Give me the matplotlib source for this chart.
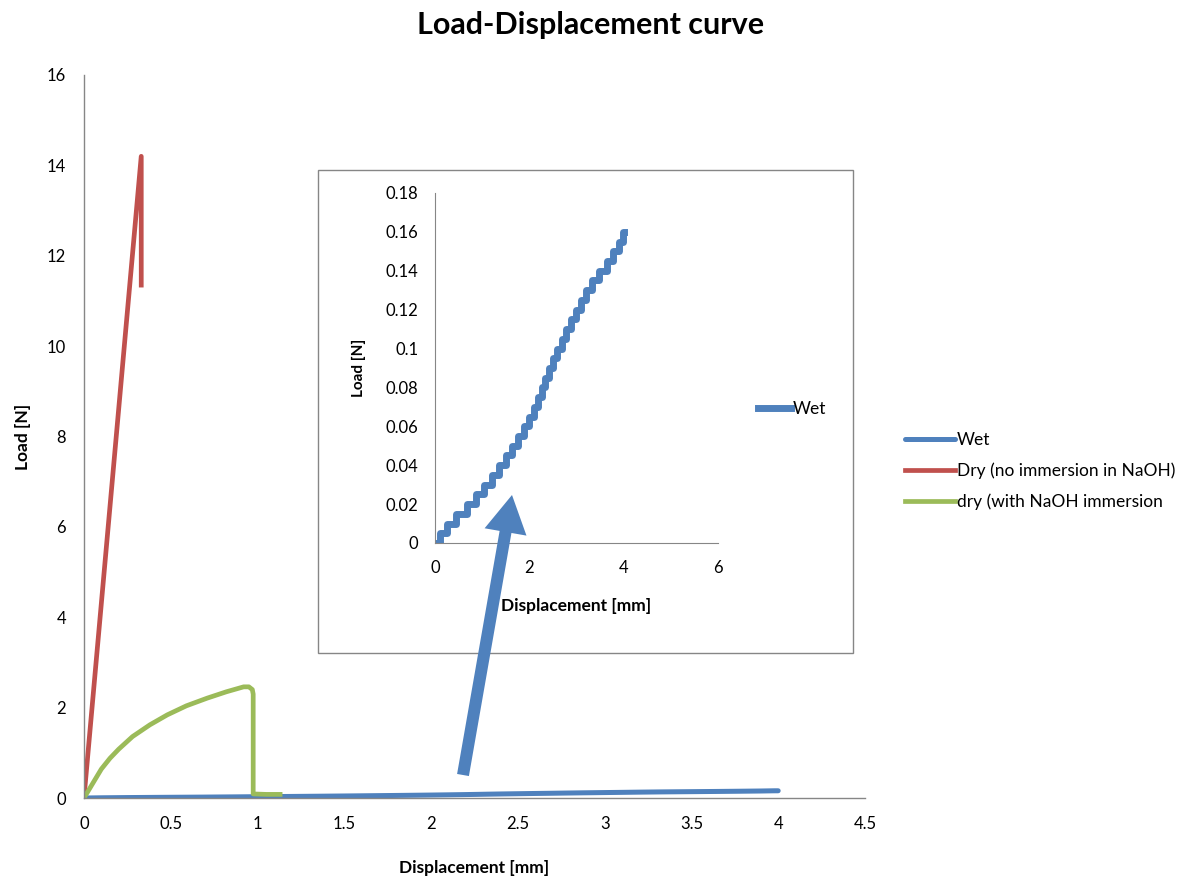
import matplotlib
matplotlib.use('Agg')
import matplotlib.pyplot as plt
from matplotlib.patches import Rectangle

plt.rcParams['font.family'] = ['Lato', 'DejaVu Sans']

# Datos
# Wet: escalones de carga (resolucion 0.005 N) y desplazamiento donde empieza cada uno
wet_disp = [0.0, 0.10, 0.25, 0.45, 0.68, 0.86, 1.03, 1.20, 1.36, 1.50, 1.63, 1.76,
            1.88, 1.99, 2.09, 2.18, 2.26, 2.33, 2.41, 2.50, 2.59, 2.69, 2.78, 2.88,
            2.99, 3.10, 3.20, 3.32, 3.48, 3.64, 3.78, 3.90, 3.98, 4.00]
wet_load = [0.0, 0.005, 0.010, 0.015, 0.020, 0.025, 0.030, 0.035, 0.040, 0.045,
            0.050, 0.055, 0.060, 0.065, 0.070, 0.075, 0.080, 0.085, 0.090, 0.095,
            0.100, 0.105, 0.110, 0.115, 0.120, 0.125, 0.130, 0.135, 0.140, 0.145,
            0.150, 0.155, 0.160, 0.160]

# Dry (no immersion in NaOH)
dry_disp = [0.0, 0.33, 0.33]
dry_load = [0.0, 14.2, 11.35]

# dry (with NaOH immersion)
naoh_disp = [0.0, 0.05, 0.10, 0.15, 0.20, 0.28, 0.38, 0.48, 0.59, 0.71, 0.82, 0.92,
             0.95, 0.97, 0.975, 0.975, 1.05, 1.13]
naoh_load = [0.0, 0.32, 0.64, 0.88, 1.08, 1.36, 1.62, 1.84, 2.04, 2.21, 2.35, 2.46,
             2.46, 2.40, 2.30, 0.09, 0.08, 0.08]

c_wet = '#4F81BD'
c_dry = '#C0504D'
c_naoh = '#9BBB59'
gris = '#868686'

fig = plt.figure(figsize=(11.81, 8.81), dpi=100)

# Grafica principal
ax = fig.add_axes([0.0711, 0.0942, 0.6613, 0.8207])
ax.plot(wet_disp, wet_load, color=c_wet, lw=3.6, label='Wet', solid_capstyle='round')
ax.plot(dry_disp, dry_load, color=c_dry, lw=3.4, label='Dry (no immersion in NaOH)')
ax.plot(naoh_disp, naoh_load, color=c_naoh, lw=3.4, label='dry (with NaOH immersion',
        solid_joinstyle='round')
ax.set_xlim(0, 4.5)
ax.set_ylim(0, 16)
ax.set_xticks([0, 0.5, 1, 1.5, 2, 2.5, 3, 3.5, 4, 4.5])
ax.set_xticklabels(['0', '0.5', '1', '1.5', '2', '2.5', '3', '3.5', '4', '4.5'])
ax.set_yticks(range(0, 17, 2))
for s in ['top', 'right']:
    ax.spines[s].set_visible(False)
for s in ['left', 'bottom']:
    ax.spines[s].set_color(gris)
    ax.spines[s].set_linewidth(1.0)
ax.tick_params(length=0, labelsize=12, pad=13)
ax.set_xlabel('Displacement [mm]', fontsize=12.5, fontweight='bold', labelpad=20)
ax.set_ylabel('Load [N]', fontsize=12.5, fontweight='bold', labelpad=11)
fig.suptitle('Load-Displacement curve', fontsize=22, fontweight='bold', x=0.5, y=0.988)

ax.legend(loc='upper left', bbox_to_anchor=(0.753, 0.527), bbox_transform=fig.transFigure,
          frameon=False, fontsize=12.5, handlelength=2.9, handletextpad=0.1, labelspacing=0.82)

# Recuadro del zoom
fig.patches.append(Rectangle((0.2693, 0.2588), 0.453, 0.548, transform=fig.transFigure,
                             fill=False, edgecolor=gris, lw=1.0))

ins = fig.add_axes([0.3683, 0.3837, 0.2396, 0.3973])
ins.plot(wet_disp, wet_load, color=c_wet, lw=5, drawstyle='steps-post', label='Wet')
ins.set_xlim(0, 6)
ins.set_ylim(0, 0.18)
ins.set_xticks([0, 2, 4, 6])
ins.set_yticks([0, 0.02, 0.04, 0.06, 0.08, 0.1, 0.12, 0.14, 0.16, 0.18])
ins.set_yticklabels(['0', '0.02', '0.04', '0.06', '0.08', '0.1', '0.12', '0.14', '0.16', '0.18'])
for s in ['top', 'right']:
    ins.spines[s].set_visible(False)
for s in ['left', 'bottom']:
    ins.spines[s].set_color(gris)
ins.tick_params(length=0, labelsize=12, pad=12)
ins.set_xlabel('Displacement [mm]', fontsize=12.5, fontweight='bold', labelpad=16)
ins.set_ylabel('Load [N]', fontsize=11, fontweight='bold', labelpad=14)
ins.legend(loc='center left', bbox_to_anchor=(0.629, 0.536), bbox_transform=fig.transFigure,
           frameon=False, fontsize=12.5, handlelength=1.9, handletextpad=0.1)

# Flecha
fig.add_artist(plt.Annotation('', xy=(512, 881 - 495), xytext=(463, 881 - 775),
                              xycoords='figure pixels', textcoords='figure pixels',
                              arrowprops=dict(arrowstyle='simple,head_length=0.75,head_width=0.85,tail_width=0.24',
                                              mutation_scale=36, color=c_wet, lw=0,
                                              shrinkA=0, shrinkB=0)))

plt.savefig('out.png', dpi=100)
